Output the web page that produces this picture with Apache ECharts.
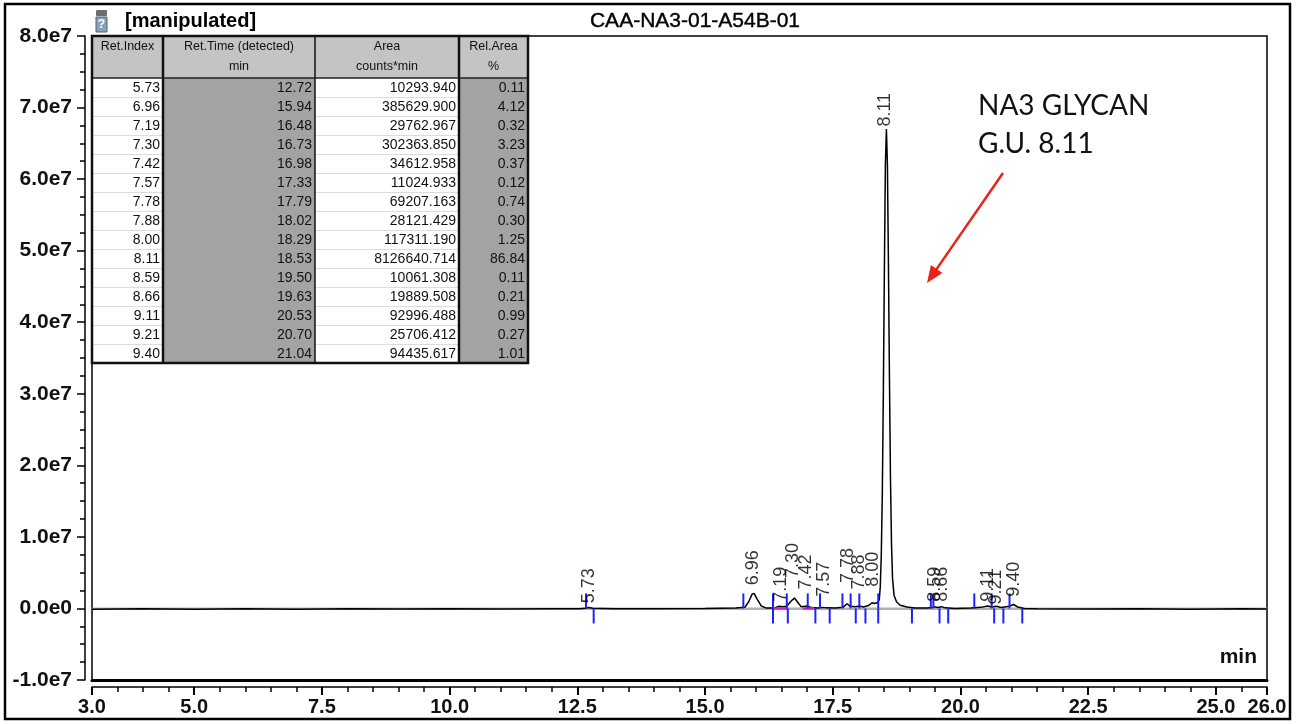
<!DOCTYPE html>
<html><head><meta charset="utf-8">
<script src="https://cdn.jsdelivr.net/npm/echarts@6/dist/echarts.min.js"></script>
<style>html,body{margin:0;padding:0;background:#fff}#c{width:1297px;height:724px}</style>
</head><body><div id="c"></div>
<script>
// ---- data ----
const UNIT = 1e6; // trace values below are in millions of counts
const traceTime = [3.0,4.0,5.0,6.0,7.0,8.0,9.0,10.0,11.0,12.0,12.55,12.65,12.72,12.80,13.2,14.0,15.0,15.6,15.78,15.86,15.92,15.96,16.02,16.1,16.2,16.35,16.45,16.52,16.6,16.68,16.75,16.81,16.88,16.95,17.0,17.08,17.2,17.3,17.38,17.55,17.7,17.78,17.84,17.95,18.02,18.1,18.2,18.27,18.32,18.37,18.41,18.43,18.45,18.47,18.49,18.51,18.53,18.55,18.57,18.59,18.61,18.63,18.65,18.67,18.70,18.75,18.82,18.95,19.1,19.35,19.45,19.50,19.55,19.63,19.70,19.9,20.2,20.4,20.53,20.62,20.70,20.80,20.95,21.04,21.12,21.25,21.5,22.5,23.5,24.5,25.5,26.0];
const traceValue = [-0.10,-0.05,-0.12,-0.06,-0.10,-0.04,-0.09,-0.05,-0.08,-0.03,-0.05,0.02,0.12,0.02,-0.05,-0.04,-0.02,0.05,0.15,1.0,2.0,2.1,1.3,0.35,0.05,0.05,0.3,0.25,0.3,1.0,1.45,0.9,0.25,0.3,0.35,0.12,0.05,0.15,0.08,0.05,0.15,0.65,0.3,0.25,0.35,0.2,0.4,0.8,0.7,0.8,1.2,3,7.5,16,30,47,62,67,62,48,32,18,9,4.2,1.8,0.9,0.45,0.2,0.05,0.05,0.12,0.22,0.12,0.25,0.08,0.0,0.05,0.15,0.35,0.2,0.3,0.12,0.3,0.55,0.2,0.0,-0.05,-0.08,-0.05,-0.1,-0.06,-0.08];

const peakLabels    = ['5.73','6.96','7.19','7.30','7.42','7.57','7.78','7.88','8.00','8.11','8.59','8.66','9.11','9.21','9.40'];
const peakLabelTime = [12.72,15.94,16.48,16.73,16.98,17.33,17.79,18.02,18.29,18.53,19.50,19.63,20.53,20.70,21.04];
const peakLabelBase = [0.6,3.1,0.8,4.1,2.5,1.5,3.4,2.5,2.9,67.2,0.8,0.8,0.8,0.4,1.5];

const startMarkTime = [12.67,15.75,16.33,16.60,17.01,17.25,17.69,17.85,18.02,18.39,19.42,19.47,20.27,20.61,20.96];
const endMarkTime   = [12.82,16.33,16.62,17.16,17.44,17.95,18.14,18.39,19.05,19.59,19.76,20.66,20.84,21.21];
const pinkStart = [16.33,16.91];
const pinkEnd   = [16.61,17.14];

const xMajorTicks = [3,5,7.5,10,12.5,15,17.5,20,22.5,25,26];
const xMinorTicks = [3.5,4,4.5,5.5,6,6.5,7,8,8.5,9,9.5,10.5,11,11.5,12,13,13.5,14,14.5,15.5,16,16.5,17,18,18.5,19,19.5,20.5,21,21.5,22,23,23.5,24,24.5,25.5];

const tableHeader1 = ['Ret.Index','Ret.Time (detected)','Area','Rel.Area'];
const tableHeader2 = ['','min','counts*min','%'];
const tableRetIndex = ['5.73','6.96','7.19','7.30','7.42','7.57','7.78','7.88','8.00','8.11','8.59','8.66','9.11','9.21','9.40'];
const tableRetTime  = ['12.72','15.94','16.48','16.73','16.98','17.33','17.79','18.02','18.29','18.53','19.50','19.63','20.53','20.70','21.04'];
const tableArea     = ['10293.940','385629.900','29762.967','302363.850','34612.958','11024.933','69207.163','28121.429','117311.190','8126640.714','10061.308','19889.508','92996.488','25706.412','94435.617'];
const tableRelArea  = ['0.11','4.12','0.32','3.23','0.37','0.12','0.74','0.30','1.25','86.84','0.11','0.21','0.99','0.27','1.01'];

const titleText = 'CAA-NA3-01-A54B-01';
const tagText = '[manipulated]';
const noteLines = ['NA3 GLYCAN','G.U. 8.11'];

// ---- build ----
const FONT = '"Liberation Sans", Arial, sans-serif';
const chart = echarts.init(document.getElementById('c'), null, {renderer:'canvas'});

const g = [];
g.push({type:'rect', shape:{x:5,y:4,width:1285,height:715}, style:{fill:'none', stroke:'#000', lineWidth:2.5}, z:10});
g.push({type:'rect', shape:{x:96,y:10,width:11,height:6, r:1}, style:{fill:'#6d6d6d'}, z:10});
g.push({type:'rect', shape:{x:96,y:17,width:11,height:15}, style:{fill:'#8aa3b8', stroke:'#4d6478', lineWidth:1}, z:10});
g.push({type:'text', x:101.5, y:25, style:{text:'?', fill:'#fff', fontSize:12, fontWeight:'bold', fontFamily:FONT, align:'center', verticalAlign:'middle'}, z:11});
g.push({type:'text', x:125, y:21, style:{text:tagText, fill:'#000', fontSize:20, fontWeight:'bold', fontFamily:FONT, align:'left', verticalAlign:'middle'}, z:10});
g.push({type:'text', x:695, y:21, style:{text:titleText, fill:'#000', fontSize:21, fontFamily:FONT, align:'center', verticalAlign:'middle', stroke:'#000', lineWidth:0.4}, z:10});

const colX = [92,163,315,459,528];
const tTop = 36, hBot = 78, rowH = 19, nRows = tableRetIndex.length, tBot = hBot + rowH*nRows;
const colFill = ['#ffffff','#a3a3a3','#ffffff','#a3a3a3'];
g.push({type:'rect', shape:{x:colX[0],y:tTop,width:colX[4]-colX[0],height:hBot-tTop}, style:{fill:'#c4c4c4'}, z:20});
for (let c=0;c<4;c++) {
  g.push({type:'rect', shape:{x:colX[c],y:hBot,width:colX[c+1]-colX[c],height:tBot-hBot}, style:{fill:colFill[c]}, z:20});
}
for (let r=1;r<nRows;r++) {
  const y = hBot + r*rowH + 0.5;
  [0,2].forEach(c=>g.push({type:'line', shape:{x1:colX[c],y1:y,x2:colX[c+1],y2:y}, style:{stroke:'#dcdcdc', lineWidth:1}, z:21}));
}
const sepW = [2.5,1.5,2.5];
for (let c=1;c<4;c++) g.push({type:'line', shape:{x1:colX[c],y1:tTop,x2:colX[c],y2:tBot}, style:{stroke:'#111', lineWidth:sepW[c-1]}, z:22});
g.push({type:'line', shape:{x1:colX[0],y1:hBot,x2:colX[4],y2:hBot}, style:{stroke:'#222', lineWidth:1.5}, z:22});
g.push({type:'rect', shape:{x:colX[0],y:tTop,width:colX[4]-colX[0],height:tBot-tTop}, style:{fill:'none', stroke:'#111', lineWidth:2.5}, z:23});
for (let c=0;c<4;c++) {
  const cx = (colX[c]+colX[c+1])/2;
  g.push({type:'text', x:cx, y:47, style:{text:tableHeader1[c], fill:'#111', fontSize:12.5, fontFamily:FONT, align:'center', verticalAlign:'middle'}, z:24});
  if (tableHeader2[c]) g.push({type:'text', x:cx, y:67, style:{text:tableHeader2[c], fill:'#111', fontSize:12.5, fontFamily:FONT, align:'center', verticalAlign:'middle'}, z:24});
}
const cols = [tableRetIndex, tableRetTime, tableArea, tableRelArea];
for (let r=0;r<nRows;r++) {
  const cy = hBot + r*rowH + rowH/2 + 0.5;
  for (let c=0;c<4;c++) {
    g.push({type:'text', x:colX[c+1]-3, y:cy, style:{text:cols[c][r], fill:'#111', fontSize:14, fontFamily:FONT, align:'right', verticalAlign:'middle'}, z:24});
  }
}

g.push({type:'text', x:978, y:106, style:{text:noteLines[0], fill:'#111', fontSize:28, fontFamily:'Lato, "Open Sans", sans-serif', align:'left', verticalAlign:'middle'}, z:10});
g.push({type:'text', x:978, y:144, style:{text:noteLines[1], fill:'#111', fontSize:28, fontFamily:'Lato, "Open Sans", sans-serif', align:'left', verticalAlign:'middle'}, z:10});
(function(){
  const x0=1003,y0=173,x1=927,y1=283;
  const dx=x1-x0, dy=y1-y0, L=Math.hypot(dx,dy), ux=dx/L, uy=dy/L, nx=-uy, ny=ux;
  const hl=17, hw=7;
  const bx=x1-ux*hl, by=y1-uy*hl;
  g.push({type:'line', shape:{x1:x0,y1:y0,x2:bx+ux*2,y2:by+uy*2}, style:{stroke:'#e8231c', lineWidth:2.5}, z:10});
  g.push({type:'polygon', shape:{points:[[x1,y1],[bx+nx*hw,by+ny*hw],[bx-nx*hw,by-ny*hw]]}, style:{fill:'#e8231c'}, z:10});
})();
g.push({type:'text', x:1257, y:657, style:{text:'min', fill:'#111', fontSize:21, fontWeight:'bold', fontFamily:FONT, align:'right', verticalAlign:'middle'}, z:10});

const traceData = traceTime.map((t,i)=>[t, traceValue[i]*UNIT]);
const labelData = peakLabels.map((n,i)=>({name:n, value:[peakLabelTime[i], peakLabelBase[i]*UNIT]}));
const markData = startMarkTime.map(t=>[t, 2.1*UNIT]).concat(endMarkTime.map(t=>[t, -2.1*UNIT]));
const pinkData = pinkStart.map((s,i)=>[s, pinkEnd[i]]);

const option = {
  animation:false,
  backgroundColor:'#fff',
  grid:{left:92, right:30, top:36, bottom:44, show:true, borderColor:'#000', borderWidth:1.5, backgroundColor:'transparent'},
  xAxis:[
    {type:'value', min:3, max:26, position:'bottom', offset:7,
     axisLine:{show:true, onZero:false, lineStyle:{color:'#000', width:1.5}},
     axisTick:{show:true, length:8, customValues:xMajorTicks, lineStyle:{color:'#000', width:2}},
     axisLabel:{show:true, customValues:xMajorTicks, formatter:v=>Number(v).toFixed(1), color:'#111', fontSize:20, fontWeight:'bold', fontFamily:FONT, margin:10},
     splitLine:{show:false}},
    {type:'value', min:3, max:26, position:'bottom', offset:7,
     axisLine:{show:false, onZero:false},
     axisTick:{show:true, length:5, customValues:xMinorTicks, lineStyle:{color:'#000', width:1.5}},
     axisLabel:{show:false}, splitLine:{show:false}},
    {type:'value', min:3, max:26, position:'bottom', offset:0,
     axisLine:{show:true, onZero:false, lineStyle:{color:'#000', width:3}},
     axisTick:{show:false}, axisLabel:{show:false}, splitLine:{show:false}}
  ],
  yAxis:{type:'value', min:-1e7, max:8e7, interval:1e7, offset:7,
    axisLine:{show:true, onZero:false, lineStyle:{color:'#000', width:1.5}},
    axisTick:{show:true, length:8, lineStyle:{color:'#000', width:1.5}},
    minorTick:{show:true, splitNumber:4, length:5, lineStyle:{color:'#000', width:1.5}},
    axisLabel:{formatter:v=>{ if (v===0) return '0.0e0'; return (v/1e7).toFixed(1)+'e7'; }, color:'#111', fontSize:21, fontWeight:'bold', fontFamily:FONT, margin:13},
    splitLine:{show:false}},
  series:[
    {type:'line', data:[[3,-0.03*UNIT],[26,-0.03*UNIT]], symbol:'none', silent:true, lineStyle:{color:'#b0b0b0', width:2.5}, z:1},
    {type:'line', data:traceData, symbol:'none', lineStyle:{color:'#000', width:1.5}, z:3},
    {type:'custom', data:pinkData, z:4, renderItem:(p,api)=>{
      const a=api.coord([api.value(0),0]), b=api.coord([api.value(1),0]);
      return {type:'line', shape:{x1:a[0],y1:a[1],x2:b[0],y2:b[1]}, style:{stroke:'#d21bd2', lineWidth:2.5}};
    }},
    {type:'custom', data:markData, z:5, renderItem:(p,api)=>{
      const t=api.value(0), h=api.value(1);
      const a=api.coord([t,0]), b=api.coord([t,h]);
      return {type:'line', shape:{x1:a[0],y1:a[1],x2:b[0],y2:b[1]}, style:{stroke:'#1f1fff', lineWidth:2}};
    }},
    {type:'scatter', data:labelData, symbolSize:0, z:6,
     label:{show:true, formatter:'{b}', rotate:90, position:'top', distance:1, align:'left', verticalAlign:'middle', color:'#000', fontSize:18, fontFamily:FONT}}
  ],
  graphic:{elements:g}
};
chart.setOption(option);
</script></body></html>
